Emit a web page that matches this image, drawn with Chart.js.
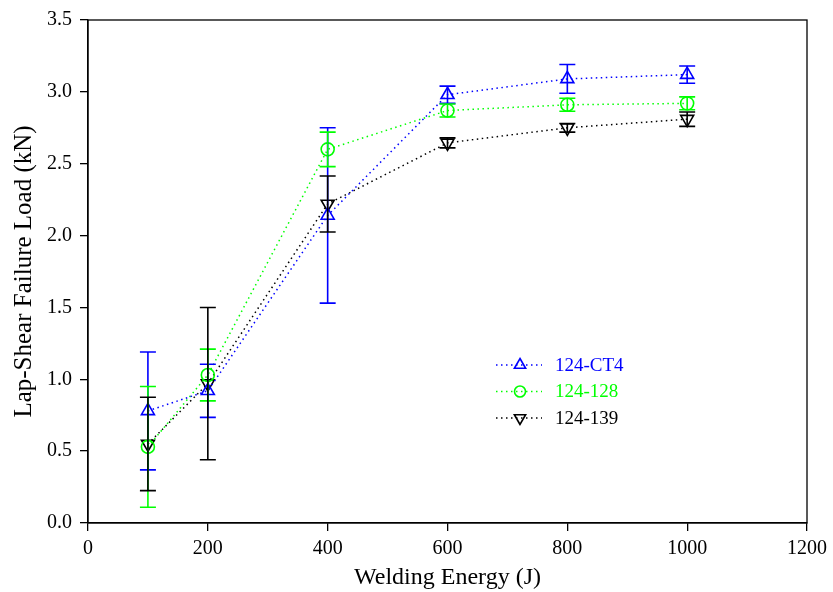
<!DOCTYPE html>
<html><head><meta charset="utf-8">
<script src="https://cdn.jsdelivr.net/npm/chart.js@4/dist/chart.umd.min.js"></script>
<style>html,body{margin:0;padding:0;background:#fff}</style>
</head><body>
<canvas id="c" width="833" height="592"></canvas>
<script>
// ---- data ----
const energies = [100, 200, 400, 600, 800, 1000];
const ct4Mean  = [0.78, 0.92, 2.14, 2.98, 3.09, 3.12];
const ct4Err   = [0.41, 0.185, 0.61, 0.06, 0.10, 0.06];
const s128Mean = [0.53, 1.03, 2.60, 2.87, 2.91, 2.92];
const s128Err  = [0.42, 0.18, 0.12, 0.045, 0.045, 0.045];
const s139Mean = [0.55, 0.97, 2.22, 2.645, 2.75, 2.81];
const s139Err  = [0.325, 0.53, 0.195, 0.035, 0.03, 0.05];
const seriesNames = ['124-CT4', '124-128', '124-139'];
const xTickValues = [0, 200, 400, 600, 800, 1000, 1200];
const yTickValues = [0, 0.5, 1.0, 1.5, 2.0, 2.5, 3.0, 3.5];

const FONT = "'Liberation Serif', 'DejaVu Serif', serif";
const colors = ['#0000ff', '#00ff00', '#000000'];
const styles = [{ps:'triangle', rot:0, r:7.5}, {ps:'circle', rot:0, r:6.5}, {ps:'triangle', rot:180, r:7.5}];
const means = [ct4Mean, s128Mean, s139Mean];
const errs = [ct4Err, s128Err, s139Err];

const datasets = seriesNames.map((name, i) => ({
  label: name,
  data: energies.map((e, j) => ({x: e, y: means[i][j]})),
  borderColor: colors[i],
  borderWidth: 1.5,
  borderDash: [1.5, 3.5],
  pointStyle: styles[i].ps,
  pointRotation: styles[i].rot,
  pointRadius: styles[i].r,
  pointHoverRadius: styles[i].r,
  pointBorderWidth: 1.6,
  pointBorderColor: colors[i],
  pointBackgroundColor: 'rgba(0,0,0,0)',
  fill: false,
  tension: 0,
  clip: false
}));

const errorBars = {
  id: 'errorBars',
  afterDatasetsDraw(chart) {
    const ctx = chart.ctx, xs = chart.scales.x, ys = chart.scales.y;
    ctx.save();
    ctx.lineWidth = 1.6;
    errs.forEach((errArr, i) => {
      ctx.strokeStyle = colors[i];
      energies.forEach((e, j) => {
        const x = xs.getPixelForValue(e);
        const yt = ys.getPixelForValue(means[i][j] + errArr[j]);
        const yb = ys.getPixelForValue(means[i][j] - errArr[j]);
        ctx.beginPath();
        ctx.moveTo(x, yt); ctx.lineTo(x, yb);
        ctx.moveTo(x - 8, yt); ctx.lineTo(x + 8, yt);
        ctx.moveTo(x - 8, yb); ctx.lineTo(x + 8, yb);
        ctx.stroke();
      });
    });
    ctx.restore();
  }
};

const frame = {
  id: 'frame',
  afterDraw(chart) {
    const {ctx, chartArea: a} = chart;
    ctx.save();
    ctx.strokeStyle = '#000';
    ctx.lineWidth = 1.3;
    ctx.strokeRect(a.left, a.top, a.right - a.left, a.bottom - a.top);
    ctx.restore();
  }
};

const legendBox = {
  id: 'legendBox',
  afterDraw(chart) {
    const ctx = chart.ctx;
    ctx.save();
    seriesNames.forEach((name, i) => {
      const y = 365 + i * 26.5;
      ctx.strokeStyle = colors[i];
      ctx.lineWidth = 1.5;
      ctx.setLineDash([1.5, 3.5]);
      ctx.beginPath(); ctx.moveTo(496, y); ctx.lineTo(542, y); ctx.stroke();
      ctx.setLineDash([]);
      ctx.fillStyle = 'rgba(0,0,0,0)';
      ctx.strokeStyle = colors[i];
      ctx.lineWidth = 1.6;
      Chart.helpers.drawPoint(ctx, {pointStyle: styles[i].ps, rotation: styles[i].rot, radius: styles[i].r - 1, borderWidth: 1.6}, 520, y);
      ctx.fillStyle = colors[i];
      ctx.font = '19px ' + FONT;
      ctx.textBaseline = 'middle';
      ctx.textAlign = 'left';
      ctx.fillText(name, 555, y + 1);
    });
    ctx.restore();
  }
};

new Chart(document.getElementById('c'), {
  type: 'line',
  data: { datasets },
  options: {
    responsive: false,
    animation: false,
    events: [],
    layout: { padding: { top: 18, right: 23, left: 0, bottom: 0 } },
    plugins: { legend: { display: false }, tooltip: { enabled: false } },
    scales: {
      x: {
        type: 'linear', min: 0, max: 1200,
        afterBuildTicks: s => { s.ticks = xTickValues.map(v => ({value: v})); },
        afterFit: s => { s.height = 69; },
        ticks: { color: '#000', font: { family: FONT, size: 20 }, padding: 6, maxRotation: 0, callback: v => String(v) },
        grid: { drawOnChartArea: false, tickLength: 8, color: '#000', lineWidth: 1.3 },
        border: { color: '#000', width: 1.3 },
        title: { display: true, text: 'Welding Energy (J)', color: '#000', font: { family: FONT, size: 24 }, padding: { top: 0, bottom: 0 } }
      },
      y: {
        min: 0, max: 3.5,
        afterBuildTicks: s => { s.ticks = yTickValues.map(v => ({value: v})); },
        afterFit: s => { s.width = 88; },
        ticks: { color: '#000', font: { family: FONT, size: 20 }, padding: 8, callback: v => Number(v).toFixed(1) },
        grid: { drawOnChartArea: false, tickLength: 8, color: '#000', lineWidth: 1.3 },
        border: { color: '#000', width: 1.3 },
        title: { display: true, text: 'Lap-Shear Failure Load (kN)', color: '#000', font: { family: FONT, size: 25 }, padding: { top: 9, bottom: 0 } }
      }
    }
  },
  plugins: [errorBars, frame, legendBox]
});
</script>
</body></html>
